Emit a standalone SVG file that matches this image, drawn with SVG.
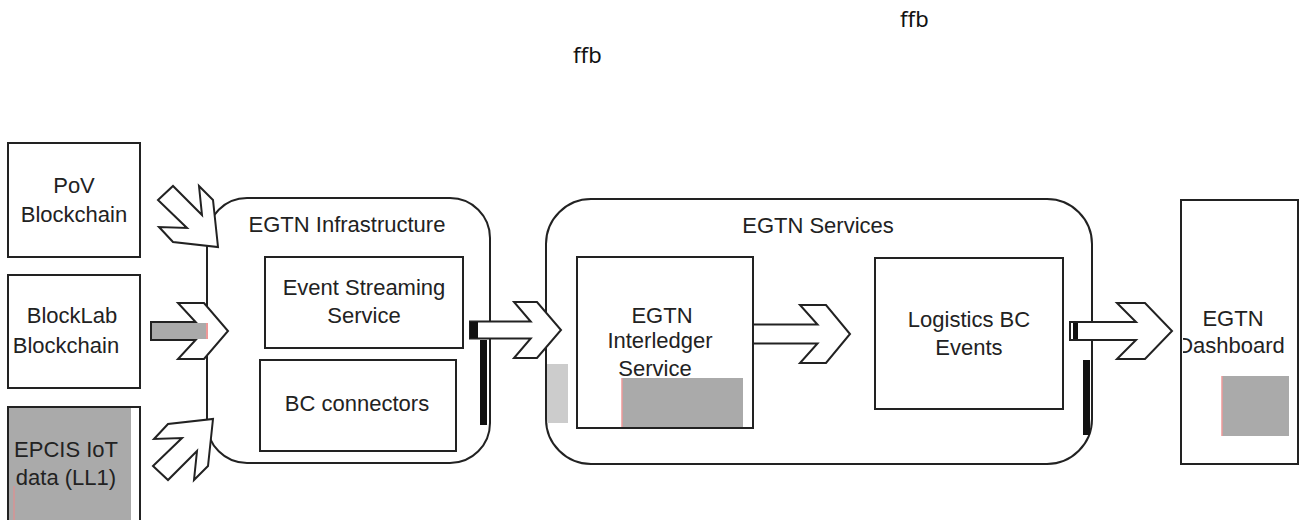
<svg xmlns="http://www.w3.org/2000/svg" width="1299" height="520" viewBox="0 0 1299 520">
<style>
.box{fill:#fff;stroke:#222;stroke-width:2}
.arrow{fill:#fff;stroke:#222;stroke-width:2;stroke-linejoin:miter}
.t{font-family:"Liberation Sans",Arial,sans-serif;font-size:22px;fill:#222;text-anchor:middle}
.ffb{font-family:"Noto Sans","Open Sans",sans-serif;font-size:22px;fill:#111}
.grey{fill:#aaa}
</style>
<defs>
<clipPath id="dashclip"><rect x="1183" y="200" width="116" height="264"/></clipPath>
</defs>
<rect width="1299" height="520" fill="#fff"/>
<text class="ffb" x="900" y="27">ffb</text>
<text class="ffb" x="573" y="63">ffb</text>

<g id="infrastructure">
<rect class="box" x="207" y="198" width="283" height="265" rx="40"/>
<text class="t" x="347" y="232">EGTN Infrastructure</text>
</g>
<g id="services">
<rect class="box" x="546" y="199" width="546" height="265" rx="45"/>
<text class="t" x="818" y="233">EGTN Services</text>
</g>

<g id="pov">
<rect class="box" x="8" y="143" width="132" height="114"/>
<text class="t" x="74" y="193">PoV</text>
<text class="t" x="74" y="222">Blockchain</text>
</g>
<g id="blocklab">
<rect class="box" x="8" y="275" width="132" height="113"/>
<text class="t" x="72" y="323">BlockLab</text>
<text class="t" x="66" y="353">Blockchain</text>
</g>
<g id="epcis">
<rect class="box" x="8" y="407" width="132" height="118"/>
<rect class="grey" x="9" y="408" width="122" height="116"/>
<line x1="14" y1="486" x2="14" y2="520" stroke="#e88" stroke-width="1"/>
<text class="t" x="66" y="457">EPCIS IoT</text>
<text class="t" x="66" y="485">data (LL1)</text>
</g>

<g id="event-streaming">
<rect class="box" x="265" y="257" width="198" height="91"/>
<text class="t" x="364" y="295">Event Streaming</text>
<text class="t" x="364" y="323">Service</text>
</g>
<g id="bc-connectors">
<rect class="box" x="260" y="360" width="196" height="91"/>
<text class="t" x="357" y="411">BC connectors</text>
</g>

<g id="interledger">
<rect class="box" x="577" y="257" width="176" height="171"/>
<rect x="547" y="364" width="21" height="59" fill="#ccc"/>
<rect class="grey" x="622" y="378" width="121" height="49"/>
<line x1="622" y1="378" x2="622" y2="427" stroke="#e99" stroke-width="1.5"/>
<text class="t" x="662" y="323">EGTN</text>
<text class="t" x="660" y="348">Interledger</text>
<text class="t" x="655" y="376">Service</text>
</g>
<g id="logistics">
<rect class="box" x="875" y="258" width="188" height="151"/>
<text class="t" x="969" y="327">Logistics BC</text>
<text class="t" x="969" y="355">Events</text>
</g>
<g id="dashboard">
<rect class="box" x="1181" y="200" width="117" height="264"/>
<rect class="grey" x="1222" y="376" width="67" height="60"/>
<line x1="1222" y1="376" x2="1222" y2="436" stroke="#e99" stroke-width="1.5"/>
<g clip-path="url(#dashclip)">
<text class="t" x="1233" y="326">EGTN</text>
<text class="t" x="1231" y="353">Dashboard</text>
</g>
</g>

<g id="connectors">
<polygon class="arrow" points="158,200 173,186 202,215 199,186 213,200 218,247 173,242 159,227 187,228"/>
<polygon class="arrow" points="151,322 195.6,322 178,303 204,303 228,331 204,359 178,359 195.6,340 151,340"/>
<rect class="grey" x="152" y="323" width="54" height="16"/>
<line x1="207" y1="323" x2="207" y2="339" stroke="#d33" stroke-width="1"/>
<polygon class="arrow" points="153,466 168,480 197,451 194,480 208,466 213,419 168,424 154,439 182,438"/>
<polygon class="arrow" points="470,321.5 530.7,321.5 514,302 537,302 561,330 537,358 514,358 530.7,338.5 470,338.5"/>
<polygon class="arrow" points="753,324.5 817.5,324.5 800,305 826,305 850,334 826,363 800,363 817.5,343.5 753,343.5"/>
<polygon class="arrow" points="1070,322 1136,322 1117,303 1145,303 1172,331 1145,359 1117,359 1136,340 1070,340"/>
<rect x="470" y="322" width="8" height="16" fill="#111"/>
<rect x="480" y="340" width="7" height="85" fill="#111"/>
<rect x="1083" y="360" width="7" height="75" fill="#111"/>
<rect x="1073" y="323" width="5" height="16" fill="#111"/>
</g>
</svg>
